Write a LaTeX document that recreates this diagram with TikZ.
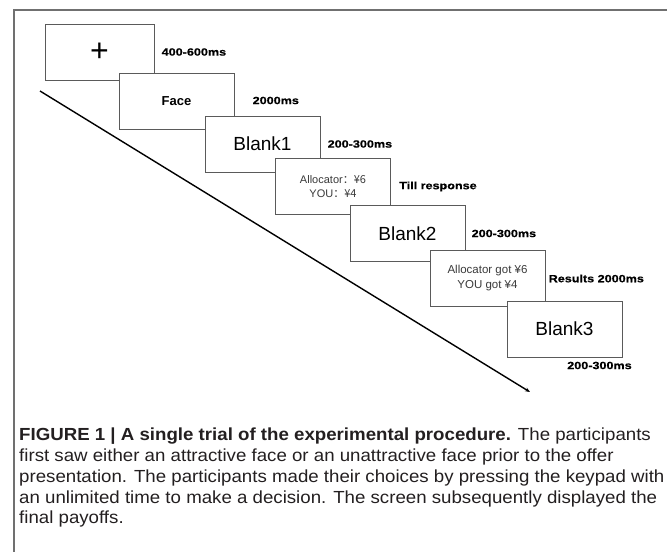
\documentclass[tikz,border=0pt]{standalone}
\usepackage{fontspec}
\setmainfont{Liberation Sans}
\newfontfamily\cjk{Noto Sans CJK SC}
\newfontfamily\zeitfont{Liberation Sans}[FakeStretch=1.2, BoldFeatures={FakeBold=0.6}]
\newfontfamily\legendfont{Liberation Sans}[FakeStretch=1.067]
\usetikzlibrary{arrows.meta}

\definecolor{boxgray}{HTML}{5A5A5A}
\definecolor{framegray}{HTML}{707070}
\definecolor{textgray}{HTML}{3A3A3A}
\definecolor{captiongray}{HTML}{231F20}

\tikzset{
  screen/.style={draw=boxgray, line width=1pt, fill=white, minimum width=115pt,
    minimum height=56pt, inner sep=0pt, align=center},
  zeit/.style={font=\zeitfont\bfseries\fontsize{10.5}{12}\selectfont, inner sep=0pt},
}

\begin{document}
\begin{tikzpicture}[x=1pt,y=-1pt]
        \useasboundingbox (0,0) rectangle (667,552);

        % Rahmen
        \draw[framegray, line width=1.5pt] (667,10) -- (14,10) -- (14,552);

        % Zeitachse
        \coordinate (start) at (40,91);
        \coordinate (ende) at (530,392);
        \draw[line width=1.4pt, -{Stealth[length=5pt,width=4pt]}] (start) -- (ende);

        % Bildschirme
        \begin{scope}[every node/.style={screen}]
            \node (fix) at (99.5,52) [minimum width=109pt, font=\fontsize{32}{32}\selectfont] {+};
            \node (face) at (176.5,101.5) [font=\bfseries\fontsize{13}{13}\selectfont] {Face};
            \node (blanka) at (262.5,144) [font=\fontsize{19}{19}\selectfont] {Blank1};
            \node (angebot) at (333,186.5) [font=\fontsize{11}{14.5}\selectfont, text=textgray] {Allocator\cjk{：}¥6\\ YOU\cjk{：}¥4};
            \node (blankb) at (407.5,233.5) [font=\fontsize{19}{19}\selectfont] {Blank2};
            \node (ergebnis) at (487.5,278.5) [font=\fontsize{11.5}{15}\selectfont, text=textgray] {Allocator got ¥6\\ YOU got ¥4};
            \node (blankc) at (564.5,329) [font=\fontsize{19}{19}\selectfont] {Blank3};
        \end{scope}

        % Zeiten
        \draw (fix.east) +(7,0) node[zeit, anchor=west] {400-600ms};
        \draw (face.east) +(18,-1) node[zeit, anchor=west] {2000ms};
        \draw (blanka.east) +(7,0) node[zeit, anchor=west] {200-300ms};
        \draw (angebot.east) +(8,0) node[zeit, anchor=west] {Till response};
        \draw (blankb.east) +(6,0) node[zeit, anchor=west] {200-300ms};
        \draw (ergebnis.east) +(3,0) node[zeit, anchor=west] {Results 2000ms};
        \draw (blankc.south east) +(-23,8) node[zeit] {200-300ms};

        % Legende
        \node (legende) at (19,428) [anchor=north west, inner sep=0pt, align=left, text=captiongray,
            font=\legendfont\fontsize{17.5}{20.75}\selectfont]
            {\textbf{FIGURE 1 | A single trial of the experimental procedure.} The participants\\
             first saw either an attractive face or an unattractive face prior to the offer\\
             presentation. The participants made their choices by pressing the keypad with\\
             an unlimited time to make a decision. The screen subsequently displayed the\\
             final payoffs.};
\end{tikzpicture}
\end{document}
